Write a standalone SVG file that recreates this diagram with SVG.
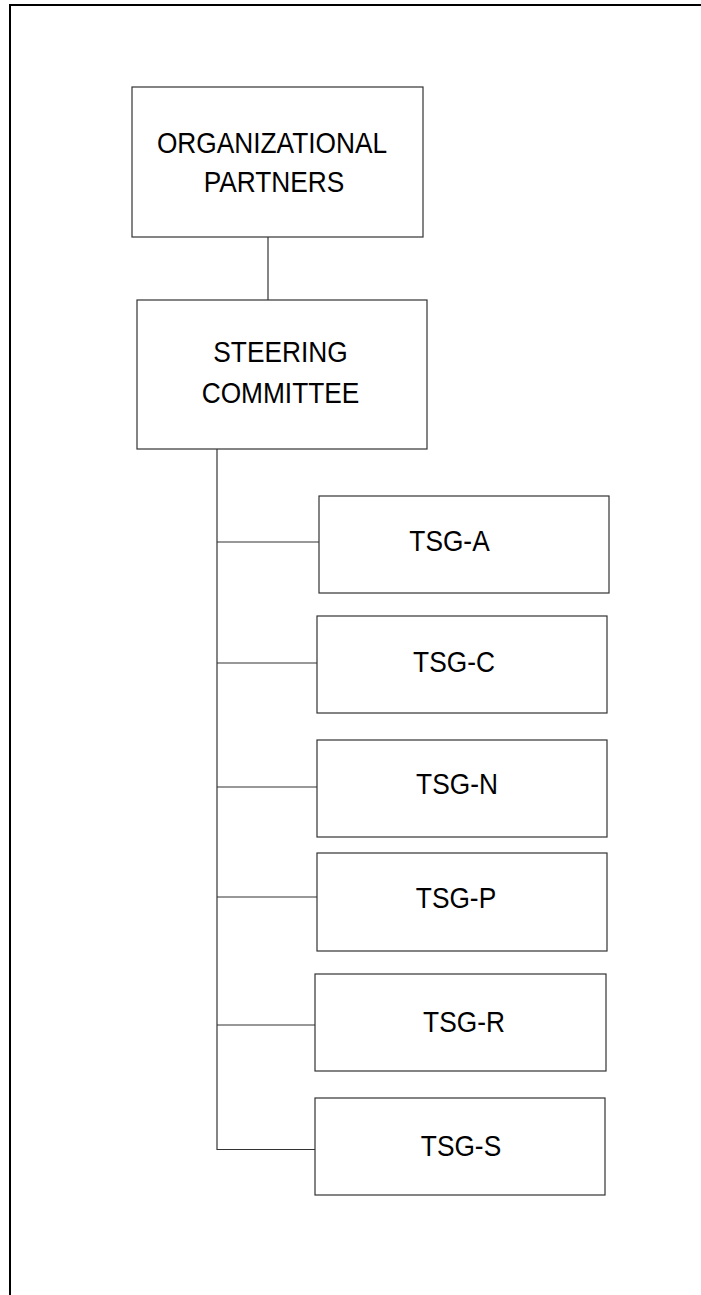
<svg xmlns="http://www.w3.org/2000/svg" width="701" height="1295" viewBox="0 0 701 1295">
<style>
.box{fill:#fff;stroke:#333;stroke-width:1.2}
.lbl{font-family:"Liberation Sans",Arial,sans-serif;font-size:26.3px;fill:#000;text-anchor:middle}
.con{stroke:#333;stroke-width:1.2;fill:none}
.frame{stroke:#000;stroke-width:2;fill:none}
</style>
<rect width="701" height="1295" fill="#fff"/>
<path class="frame" d="M10,1295 V5 H701"/>
<g id="connectors">
<line class="con" x1="268" y1="237" x2="268" y2="300"/>
<line class="con" x1="217" y1="449" x2="217" y2="1150"/>
<line class="con" x1="217" y1="542" x2="319" y2="542"/>
<line class="con" x1="217" y1="663" x2="317" y2="663"/>
<line class="con" x1="217" y1="787" x2="317" y2="787"/>
<line class="con" x1="217" y1="897" x2="317" y2="897"/>
<line class="con" x1="217" y1="1025" x2="315" y2="1025"/>
<line class="con" x1="217" y1="1149.5" x2="315" y2="1149.5"/>
</g>
<g id="org">
<rect class="box" x="132" y="87" width="291" height="150"/>
<text class="lbl" transform="translate(272,153) scale(1,1.1)">ORGANIZATIONAL</text>
<text class="lbl" transform="translate(274,191.5) scale(1,1.1)">PARTNERS</text>
</g>
<g id="steering">
<rect class="box" x="137" y="300" width="290" height="149"/>
<text class="lbl" transform="translate(280.5,362) scale(1,1.1)">STEERING</text>
<text class="lbl" transform="translate(280.5,403) scale(1,1.1)">COMMITTEE</text>
</g>
<g id="tsg-a">
<rect class="box" x="319" y="496" width="290" height="97"/>
<text class="lbl" transform="translate(449.5,550.7) scale(1,1.1)">TSG-A</text>
</g>
<g id="tsg-c">
<rect class="box" x="317" y="616" width="290" height="97"/>
<text class="lbl" transform="translate(454,672) scale(1,1.1)">TSG-C</text>
</g>
<g id="tsg-n">
<rect class="box" x="317" y="740" width="290" height="97"/>
<text class="lbl" transform="translate(457,794) scale(1,1.1)">TSG-N</text>
</g>
<g id="tsg-p">
<rect class="box" x="317" y="853" width="290" height="98"/>
<text class="lbl" transform="translate(456,908) scale(1,1.1)">TSG-P</text>
</g>
<g id="tsg-r">
<rect class="box" x="315" y="974" width="291" height="97"/>
<text class="lbl" transform="translate(464,1032) scale(1,1.1)">TSG-R</text>
</g>
<g id="tsg-s">
<rect class="box" x="315" y="1098" width="290" height="97"/>
<text class="lbl" transform="translate(461,1155.5) scale(1,1.1)">TSG-S</text>
</g>
</svg>
